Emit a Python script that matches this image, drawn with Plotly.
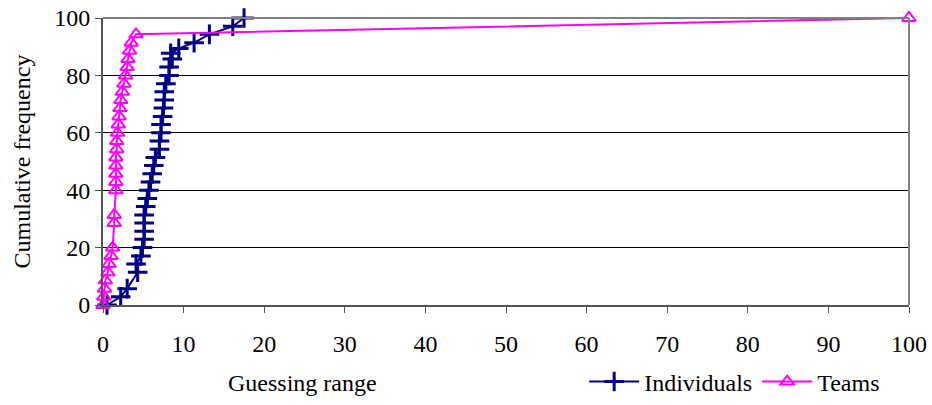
import plotly.graph_objects as go

ind_x = [0.5, 2.2, 3.0, 4.3, 4.1, 4.7, 4.9, 5.1, 5.1, 5.1, 5.1, 5.3, 5.5, 5.7, 5.9, 6.1, 6.3, 6.5,
         7.0, 7.0, 7.2, 7.2, 7.4, 7.5, 7.6, 7.6, 7.8, 8.2, 8.2, 8.6, 8.4, 9.4, 11.3, 13.2, 16.1, 17.5]
ind_y = [0, 2.9, 5.7, 11.4, 14.3, 17.1, 20.0, 22.9, 25.7, 28.6, 31.4, 34.3, 37.1, 40.0, 42.9, 45.7, 48.6, 51.4,
         54.3, 57.1, 60.0, 62.9, 65.7, 68.6, 71.4, 74.3, 77.1, 80.0, 82.9, 85.7, 87.7, 89.4, 91.4, 94.3, 97.1, 100]

team_x = [0, 0.1, 0.2, 0.3, 0.6, 0.75, 1.0, 1.2, 1.4, 1.4, 1.6, 1.6, 1.6, 1.6, 1.6, 1.7, 1.7, 1.8,
          1.9, 2.0, 2.1, 2.2, 2.4, 2.6, 2.8, 3.0, 3.1, 3.3, 3.5, 4.1, 100]
team_y = [0, 2.9, 5.7, 8.6, 11.4, 14.3, 17.1, 20.0, 28.6, 31.4, 40.0, 42.9, 45.7, 48.6, 51.4, 54.3, 57.1, 60.0,
          62.9, 65.7, 68.6, 71.4, 74.3, 77.1, 80.0, 82.9, 85.7, 88.6, 91.4, 94.3, 100]

x_ticks = [0, 10, 20, 30, 40, 50, 60, 70, 80, 90, 100]
y_ticks = [0, 20, 40, 60, 80, 100]

FONT = "Liberation Serif, Times New Roman, serif"
FS = 24

fig = go.Figure()
fig.add_trace(go.Scatter(
    x=ind_x, y=ind_y, mode="lines+markers", name="Individuals",
    line=dict(color="#000080", width=2),
    marker=dict(symbol="cross-thin", size=14, line=dict(color="#000080", width=3)),
    cliponaxis=False,
))
fig.add_trace(go.Scatter(
    x=team_x, y=team_y, mode="lines+markers", name="Teams",
    line=dict(color="#FF00FF", width=2),
    marker=dict(symbol="triangle-up-open", size=12, color="#FF00FF", line=dict(color="#FF00FF", width=2)),
    cliponaxis=False,
))

fig.update_layout(
    width=932, height=405,
    margin=dict(l=103, r=23, t=18, b=100, autoexpand=False),
    paper_bgcolor="white", plot_bgcolor="white",
    font=dict(family=FONT, size=FS, color="black"),
    showlegend=True,
    legend=dict(orientation="h", x=0.597, xanchor="left", y=-0.268, yanchor="middle",
                font=dict(family=FONT, size=FS), tracegroupgap=0, itemwidth=50),
    xaxis=dict(range=[0, 100], tickvals=x_ticks, showgrid=False, zeroline=False,
               showline=True, linecolor="#555555", linewidth=2, mirror=False,
               ticks="outside", ticklen=6, tickcolor="#555555", tickwidth=1,
               ticklabelstandoff=10, tickfont=dict(family=FONT, size=FS)),
    yaxis=dict(range=[0, 100], tickvals=y_ticks, showgrid=True, gridcolor="black", gridwidth=1,
               zeroline=False, showline=True, linecolor="#555555", linewidth=2,
               ticks="outside", ticklen=6, tickcolor="#555555", tickwidth=1,
               tickfont=dict(family=FONT, size=FS)),
    shapes=[
        dict(type="line", xref="paper", yref="paper", x0=0, x1=1, y0=1, y1=1,
             line=dict(color="#808080", width=2)),
        dict(type="line", xref="paper", yref="paper", x0=1, x1=1, y0=0, y1=1,
             line=dict(color="#808080", width=2)),
    ],
    annotations=[
        dict(text="Guessing range", xref="paper", yref="paper", x=0.248, y=-0.272,
             xanchor="center", yanchor="middle", showarrow=False,
             font=dict(family=FONT, size=FS)),
        dict(text="Cumulative frequency", xref="paper", yref="paper", x=-0.1005, y=0.5,
             xanchor="center", yanchor="middle", textangle=-90, showarrow=False,
             font=dict(family=FONT, size=FS)),
    ],
)

fig.write_html("out.html")
